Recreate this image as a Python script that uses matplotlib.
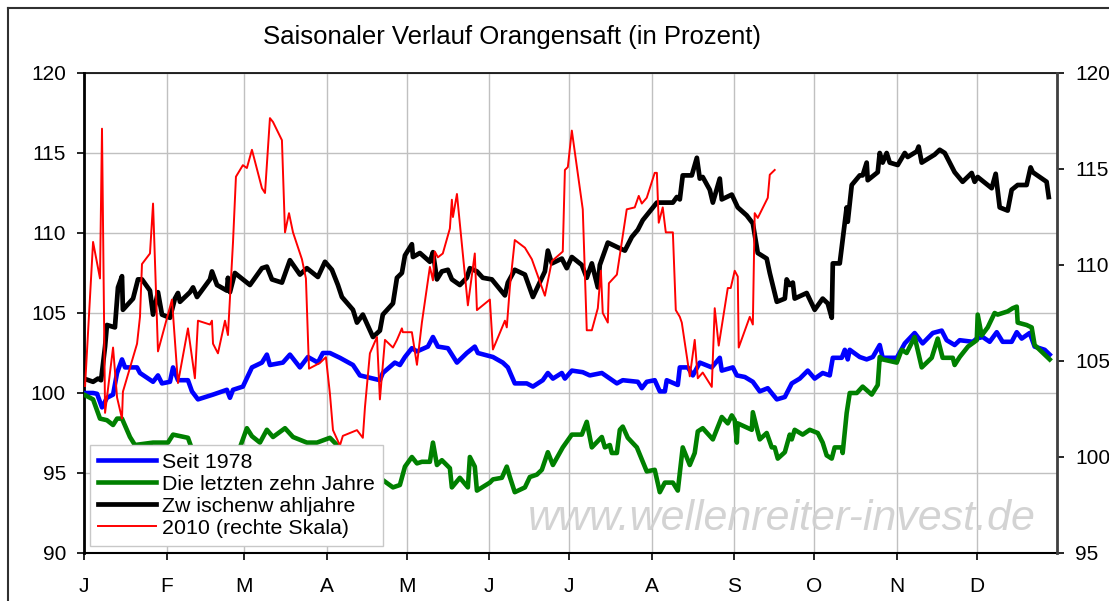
import matplotlib
matplotlib.use("Agg")
import matplotlib.pyplot as plt
from matplotlib.lines import Line2D

plt.rcParams['font.family'] = ['Liberation Sans', 'DejaVu Sans']

title = "Saisonaler Verlauf Orangensaft (in Prozent)"
month_labels = ["J", "F", "M", "A", "M", "J", "J", "A", "S", "O", "N", "D"]
month_starts = [0, 31, 60, 91, 121, 152, 182, 213, 244, 274, 305, 335]
series_names = ["Seit 1978", "Die letzten zehn Jahre", "Zw ischenw ahljahre", "2010 (rechte Skala)"]

# Seit 1978 (left scale)
blue_x = [0, 3.4, 4.9, 6.75, 8.6, 10.9, 12.4, 14.25, 15.4, 19.9, 21, 25.9, 27.75, 29.25, 32.25, 33.4, 35.25, 39,
          40.5, 42.75, 48.4, 53.6, 54.75, 55.9, 59.6, 63, 66.75, 68.6, 69.75, 74.6, 77.25, 81, 84, 87.75, 89.6,
          92.25, 96, 100.9, 103.5, 108.4, 111, 112.1, 116.6, 118.5, 120.4, 123, 124.9, 129, 130.9, 132.75, 136.5,
          139.9, 143.6, 146.6, 147.75, 153.4, 157.1, 159, 161.6, 166.1, 168.4, 172.1, 174, 175.9, 179.25, 180.4,
          183, 187.1, 189.75, 194.25, 199.9, 202.1, 207.75, 209.25, 211.1, 214.1, 216, 217.9, 218.6, 222.75,
          223.5, 226.5, 228.4, 231, 235.5, 238.5, 239.25, 243.4, 244.9, 247.9, 250.9, 253.5, 256.5, 259.9, 262.9,
          265.5, 268.5, 271.5, 274.1, 277.1, 279.75, 280.9, 284.25, 285.4, 286.5, 287.25, 291, 293.6, 295.9,
          298.5, 299.6, 304.9, 307.9, 311.6, 314.6, 318.4, 321.75, 323.6, 326.6, 328.5, 333.4, 334.9, 337.1,
          339.75, 342.4, 344.6, 348, 349.9, 351.75, 354.75, 356.6, 360.4, 362.25]
blue_y = [100.0, 100.0, 99.95, 99.1, 99.7, 99.9, 101.25, 102.1, 101.6, 101.6, 101.25, 100.7, 101.1, 100.6, 100.7,
          101.6, 100.8, 100.8, 100.1, 99.6, 99.9, 100.2, 99.7, 100.2, 100.4, 101.6, 101.9, 102.4, 101.75, 101.9,
          102.4, 101.6, 102.25, 101.9, 102.5, 102.5, 102.2, 101.75, 101.1, 100.9, 100.8, 101.25, 101.9, 101.75,
          102.25, 102.8, 102.6, 102.9, 103.5, 102.9, 102.8, 101.9, 102.5, 102.9, 102.5, 102.25, 101.9, 101.6,
          100.6, 100.6, 100.4, 100.8, 101.25, 100.9, 101.25, 100.9, 101.4, 101.3, 101.1, 101.25, 100.6, 100.8,
          100.7, 100.3, 100.7, 100.8, 100.1, 100.1, 100.8, 100.5, 101.6, 101.6, 101.1, 101.9, 101.6, 102.2,
          101.4, 101.6, 101.1, 101.0, 100.7, 100.1, 100.3, 99.6, 99.75, 100.6, 100.9, 101.4, 100.9, 101.25,
          101.1, 102.2, 102.2, 102.7, 102.1, 102.7, 102.25, 102.1, 102.25, 103.0, 102.2, 102.2, 103.1, 103.75,
          103.1, 103.75, 103.9, 103.3, 103.0, 103.3, 103.2, 103.4, 103.5, 103.2, 103.8, 103.2, 103.2, 103.8,
          103.4, 103.75, 102.9, 102.7, 102.4]

# Die letzten zehn Jahre (left scale)
green_x = [0, 3.4, 6, 8.6, 10.9, 12.4, 14.25, 17.25, 19.1, 25.9, 31.5, 33.4, 39, 40.5, 45.4, 52.9, 58.5, 61.1,
           63, 66, 68.6, 70.9, 75.4, 78.4, 83.6, 87.4, 92.25, 94.9, 97.9, 103.5, 109.1, 111.75, 115.9, 118.5,
           120.4, 123, 124.9, 126.75, 129.75, 130.9, 132.4, 134.25, 137.25, 138, 141, 144, 144.75, 146.6, 147.4,
           152.25, 153.4, 156.75, 158.6, 159.75, 161.6, 165.4, 167.25, 169.9, 171.75, 174, 175.9, 179.6, 183,
           186.75, 188.6, 190.5, 194.25, 195.4, 197.25, 198, 199.9, 201, 202.1, 204, 207.4, 211.1, 214.1, 216,
           217.9, 220.9, 222.75, 224.6, 227.25, 229.1, 230.25, 232.1, 235.9, 239.25, 241.5, 243, 244.1, 244.9,
           245.25, 250.5, 250.9, 252.4, 253.5, 256.1, 258, 259.1, 260.25, 262.9, 264.75, 265.5, 266.6, 269.6,
           272.25, 275.25, 277.1, 278.6, 280.5, 281.6, 284.25, 284.6, 286.1, 287.25, 289.9, 292.1, 295.5,
           297.75, 298.5, 299.6, 304.9, 306.75, 308.6, 311.6, 314.25, 318, 320.25, 322.1, 325.9, 326.6, 328.5,
           331.6, 334.9, 335.25, 336.75, 339, 341.6, 342.75, 346.5, 348.4, 349.9, 350.25, 353.6, 355.5, 356.6,
           358.5, 362.25]
green_y = [99.9, 99.6, 98.4, 98.3, 98.0, 98.4, 98.4, 97.25, 96.75, 96.9, 96.9, 97.4, 97.2, 96.5, 96.0, 96.2,
           96.6, 97.8, 97.3, 96.9, 97.7, 97.25, 97.8, 97.25, 96.9, 96.9, 97.2, 96.75, 95.8, 95.3, 94.8, 94.6,
           94.1, 94.25, 95.4, 96.0, 95.6, 95.7, 95.7, 96.9, 95.5, 95.8, 95.3, 94.1, 94.7, 94.1, 96.0, 95.4, 93.9,
           94.4, 94.6, 94.7, 95.4, 94.75, 93.8, 94.1, 94.75, 94.9, 95.2, 96.3, 95.5, 96.6, 97.4, 97.4, 98.2,
           96.6, 97.25, 96.6, 96.75, 96.25, 96.25, 97.7, 97.9, 97.2, 96.6, 95.1, 95.2, 93.8, 94.4, 94.4, 93.9,
           96.6, 95.5, 96.25, 97.6, 97.8, 97.1, 98.5, 98.1, 98.6, 98.3, 96.9, 98.1, 97.7, 98.8, 97.8, 97.1, 97.5,
           96.6, 96.6, 95.9, 96.3, 97.4, 97.1, 97.7, 97.4, 97.7, 97.5, 96.9, 96.1, 95.9, 96.6, 96.6, 96.25,
           98.75, 100.0, 100.0, 100.4, 99.9, 100.5, 102.25, 102.1, 101.9, 102.7, 102.5, 103.5, 101.6, 102.2,
           103.4, 102.2, 102.2, 101.75, 102.25, 102.9, 103.3, 104.9, 103.6, 104.1, 105.0, 104.9, 105.1, 105.3,
           105.4, 104.4, 104.25, 104.1, 103.0, 102.7, 102.1]

# Zwischenwahljahre (left scale)
black_x = [0, 3.4, 5.25, 6.4, 7.9, 8.6, 11.6, 12.75, 14.25, 14.6, 18.4, 20.25, 21.75, 24.75, 25.9, 27.75, 29.25,
           32.25, 34.1, 35.25, 36, 39.75, 40.9, 42.4, 47.25, 48, 49.9, 53.6, 54, 54.75, 56.6, 62.25, 66.75, 68.6,
           70.5, 74.25, 77.25, 81, 83.6, 87.75, 90.4, 93, 95.25, 96.75, 100.9, 102.4, 104.6, 108.4, 111, 112.1,
           115.9, 117.4, 119.25, 120.4, 123, 123.4, 126, 129.75, 130.9, 132.4, 134.25, 136.5, 138, 141, 143.6,
           144.75, 147.4, 149.6, 153, 157.9, 159, 161.6, 165.4, 168.4, 172.9, 174, 175.5, 179.25, 181.1, 183,
           186.75, 188.6, 190.5, 192.75, 193.5, 196.5, 200.25, 202.9, 205.5, 207.75, 209.6, 214.9, 217.1, 220.9,
           222.4, 223.5, 224.6, 228, 229.9, 231, 232.1, 234.75, 235.9, 238.5, 239.25, 243, 245.25, 248.6, 250.9,
           252.75, 256.1, 257.25, 259.9, 262.9, 263.6, 264.75, 265.9, 266.6, 271.1, 274.1, 277.1, 279, 280.5,
           280.9, 283.5, 284.6, 286.1, 286.5, 288, 291, 292.1, 293.6, 294, 297.75, 298.5, 299.6, 301.1, 302.25,
           305.25, 307.9, 309, 312.4, 313.1, 314.25, 319.1, 321, 322.9, 326.6, 329.6, 333, 334.1, 335.25, 340.5,
           342, 343.5, 346.5, 348, 350.25, 353.6, 355.1, 355.9, 361.1, 361.9]
black_y = [100.9, 100.7, 100.9, 100.8, 102.9, 104.25, 104.1, 106.6, 107.3, 105.2, 105.9, 107.1, 107.1, 106.4,
           104.9, 106.3, 104.9, 104.7, 105.9, 106.25, 105.7, 106.3, 106.6, 106.0, 107.1, 107.6, 106.75, 106.4,
           107.2, 106.3, 107.5, 106.75, 107.8, 107.9, 107.1, 106.9, 108.3, 107.4, 107.8, 107.25, 108.2, 107.7,
           106.75, 106.0, 105.2, 104.4, 104.9, 103.5, 103.9, 104.9, 105.6, 107.2, 107.5, 108.6, 109.3, 108.5,
           108.75, 108.2, 108.8, 107.1, 107.6, 107.7, 107.1, 106.75, 107.2, 107.8, 107.6, 107.2, 107.1, 106.1,
           106.9, 107.7, 107.4, 106.0, 107.6, 108.9, 108.1, 108.4, 107.8, 108.5, 108.0, 107.2, 108.1, 106.6,
           108.0, 109.4, 109.1, 108.9, 109.75, 110.2, 110.8, 111.9, 111.9, 111.9, 112.25, 112.1, 113.6, 113.6,
           114.7, 113.4, 113.5, 112.7, 111.9, 113.4, 112.1, 112.4, 111.6, 111.1, 110.6, 108.75, 108.4, 107.5,
           105.7, 105.9, 107.1, 106.75, 106.9, 105.9, 106.25, 105.2, 105.9, 105.6, 104.7, 108.1, 108.1, 109.6,
           111.6, 110.7, 113.0, 113.6, 113.6, 114.4, 113.3, 113.8, 115.0, 114.4, 115.0, 114.4, 114.25, 115.0,
           114.75, 115.1, 115.4, 114.4, 114.9, 115.2, 115.0, 113.8, 113.2, 113.75, 113.2, 113.5, 112.8, 113.7,
           111.6, 111.4, 112.7, 113.0, 113.0, 114.1, 113.8, 113.2, 112.25]

# 2010 (right scale)
red_x = [0.4, 3.4, 6, 6.75, 7.9, 10.9, 12.4, 14.25, 14.6, 19.9, 21, 21.75, 24.75, 25.9, 27.75, 33, 35.25, 39,
         41.6, 42.75, 47.25, 48, 48.4, 50.25, 52.9, 54, 55.9, 57, 59.6, 61.1, 63, 66.75, 67.9, 69.75, 70.9,
         74.25, 75.4, 76.9, 78.4, 81.75, 83.25, 84.4, 88.5, 90.75, 92.25, 93.4, 96, 97.1, 102.4, 104.6, 105.4,
         107.25, 109.9, 111, 112.9, 115.9, 117.4, 119.25, 119.6, 123, 124.9, 126.75, 129.75, 130.9, 131.6,
         132.75, 134.6, 137.25, 138, 138.4, 139.9, 144, 146.6, 147.4, 152.25, 153.4, 157.9, 158.6, 159.75,
         161.6, 165.4, 168, 172.9, 175.5, 179.6, 180.4, 181.5, 183, 187.1, 188.6, 190.5, 192.75, 193.9, 194.6,
         196.5, 196.9, 199.9, 203.6, 206.6, 208.1, 209.25, 211.1, 214.1, 214.9, 215.6, 217.1, 218.25, 220.9,
         222, 223.5, 224.25, 227.25, 229.1, 230.25, 232.1, 235.5, 236.6, 238.1, 241.5, 242.6, 244.1, 245.25,
         245.6, 249.75, 250.9, 251.6, 252.75, 256.5, 257.25, 259.1]
red_y = [103.7, 111.2, 109.3, 117.1, 102.3, 105.7, 103.1, 102.0, 103.4, 105.9, 107.3, 110.05, 110.6, 113.2,
         105.5, 108.2, 103.85, 106.7, 104.1, 107.1, 106.9, 107.1, 105.9, 105.4, 107.1, 106.35, 111.2, 114.6,
         115.2, 115.05, 116.0, 114.0, 113.75, 117.65, 117.45, 116.5, 111.7, 112.7, 111.7, 110.3, 109.3, 104.6,
         104.9, 105.2, 103.3, 101.4, 100.6, 101.1, 101.4, 101.0, 102.6, 105.4, 106.25, 103.0, 106.1, 105.7,
         106.1, 106.7, 106.5, 106.5, 104.8, 107.0, 109.9, 109.2, 110.7, 110.4, 110.6, 111.9, 113.4, 112.5,
         113.7, 107.9, 110.6, 107.65, 108.2, 105.6, 107.1, 106.75, 108.85, 111.3, 110.9, 110.3, 108.4, 110.2,
         110.7, 114.95, 115.1, 117.0, 112.9, 106.6, 106.6, 107.75, 109.7, 107.5, 107.0, 109.05, 109.5, 112.9,
         113.0, 113.6, 113.2, 113.5, 114.8, 114.8, 112.2, 113.0, 111.7, 111.7, 107.65, 107.3, 107.0, 104.2,
         106.1, 104.1, 104.4, 103.65, 107.75, 105.8, 108.8, 108.8, 109.7, 109.4, 105.7, 107.3, 106.9, 112.7,
         112.45, 113.5, 114.7, 114.95]

W, H = 1109, 601
fig = plt.figure(figsize=(W / 100, H / 100), dpi=100)
ax = fig.add_axes([84 / W, 1 - 553 / H, (1057 - 84) / W, (553 - 73) / H])
ax2 = ax.twinx()

grid_c = '#c0c0c0'
ax.set_axisbelow(True)
ax.grid(True, color=grid_c, linewidth=1.0)

l1, = ax.plot(blue_x, blue_y, color='#0000ff', linewidth=3.3, solid_joinstyle='round', zorder=3)
l2, = ax.plot(green_x, green_y, color='#008000', linewidth=3.3, solid_joinstyle='round', zorder=3)
l3, = ax.plot(black_x, black_y, color='black', linewidth=3.4, solid_joinstyle='round', zorder=3)
l4, = ax2.plot(red_x, red_y, color='#ff0000', linewidth=1.4, zorder=3)

ax.set_xlim(0, 365)
ax.set_ylim(90, 120)
ax2.set_ylim(95, 120)
ax.set_yticks([90, 95, 100, 105, 110, 115, 120])
ax2.set_yticks([95, 100, 105, 110, 115, 120])
ax.set_xticks(month_starts)
ax.set_xticklabels(month_labels)

ax.tick_params(axis='y', direction='out', length=5, width=1.2, labelsize=15, pad=8)
ax2.tick_params(axis='y', direction='out', length=5, width=1.2, labelsize=15, pad=8, colors='black')
ax.tick_params(axis='x', direction='out', length=5, width=1.2, labelsize=15, pad=12)

ax.spines['left'].set_linewidth(2.0)
ax.spines['bottom'].set_linewidth(1.5)
ax.spines['top'].set_linewidth(1.2)
ax2.spines['right'].set_linewidth(2.0)
ax2.spines['right'].set_color('#404040')
for s in ['left', 'top', 'bottom']:
    ax2.spines[s].set_visible(False)

fig.text(512 / W, 1 - 37 / H, title, ha='center', va='center', fontsize=18.5)

ax2.text(0.9785, 0.07, "www.wellenreiter-invest.de", transform=ax.transAxes, ha='right', va='center',
         fontsize=31, style='italic', color='#cfcfcf', alpha=0.9, zorder=1)

leg = ax2.legend([l1, l2, l3, l4], series_names, loc='lower left', bbox_to_anchor=(6 / 973, 7 / 480),
                 fontsize=15.4, frameon=True, fancybox=False, framealpha=1.0, handlelength=2.7,
                 handletextpad=0.3, labelspacing=0.14, borderpad=0.38, borderaxespad=0)
leg.get_frame().set_edgecolor('#c8c8c8')
leg.get_frame().set_linewidth(1.0)

fig.add_artist(Line2D([8 / W, 8 / W], [0, 1 - 8 / H], color='#303030', linewidth=1.5))
fig.add_artist(Line2D([8 / W, 1], [1 - 8 / H, 1 - 8 / H], color='#303030', linewidth=1.5))

fig.savefig("out.png", dpi=100)
